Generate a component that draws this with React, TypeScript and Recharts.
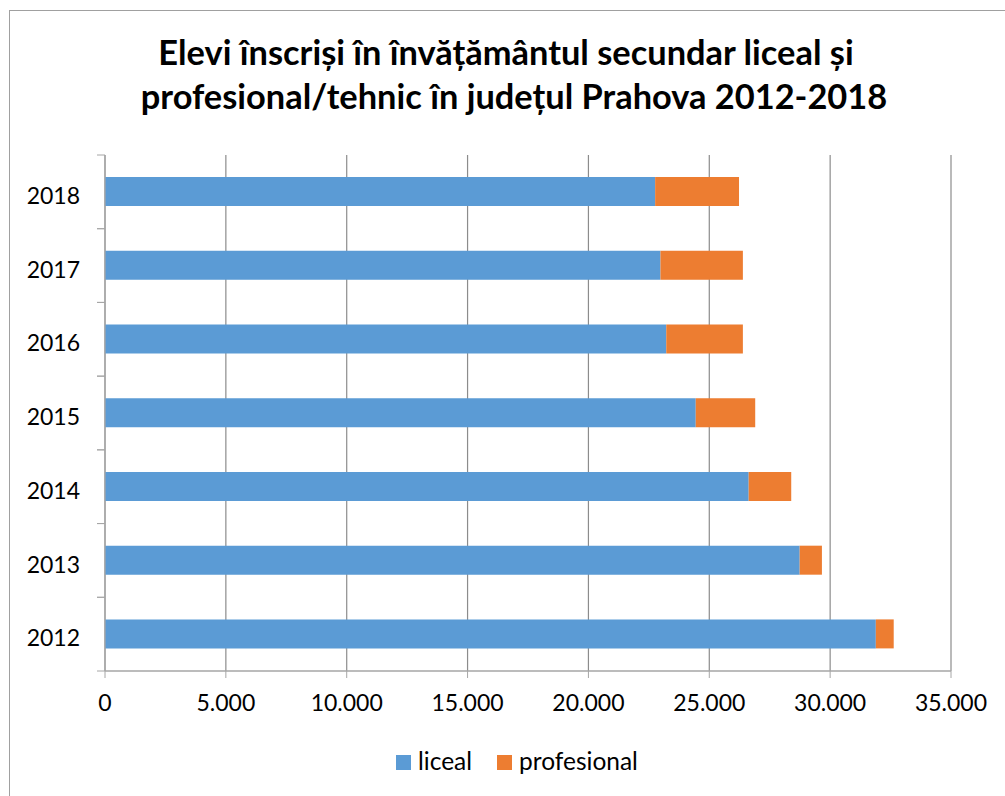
import React from "react"
import { Bar, BarChart, CartesianGrid, XAxis, YAxis } from "recharts"

const years = ["2012", "2013", "2014", "2015", "2016", "2017", "2018"]
const liceal = [31890, 28740, 26630, 24440, 23220, 22980, 22760]
const profesional = [740, 920, 1760, 2460, 3170, 3410, 3470]
const xTicks = [0, 5000, 10000, 15000, 20000, 25000, 30000, 35000]

const series = [
  { key: "liceal", name: "liceal", color: "#5B9BD5" },
  { key: "profesional", name: "profesional", color: "#ED7D31" },
]

const titleLines = [
  "Elevi înscriși în învățământul secundar liceal și",
  "profesional/tehnic în județul Prahova 2012-2018",
]

const data = years.map((year, i) => ({
  year,
  liceal: liceal[i],
  profesional: profesional[i],
}))

const W = 1005
const H = 796
const M = { top: 155, right: 54, bottom: 95, left: 25 }
const X_AXIS_H = 30
const Y_AXIS_W = 80
const PLOT_H = H - M.top - M.bottom - X_AXIS_H
const BAND = PLOT_H / years.length
const FONT = "Lato, 'Open Sans', sans-serif"
const AXIS_COLOR = "#A6A6A6"
const GRID_COLOR = "#8C8C8C"

const fmt = (n: number) => String(n).replace(/\B(?=(\d{3})+(?!\d))/g, ".")

const YTick = (props: any) => {
  const { x, y, payload } = props
  const axisX = x + 17 + 8
  return (
    <g>
      <line x1={axisX - 8} x2={axisX} y1={y - BAND / 2} y2={y - BAND / 2} stroke={AXIS_COLOR} />
      <line x1={axisX - 8} x2={axisX} y1={y + BAND / 2} y2={y + BAND / 2} stroke={AXIS_COLOR} />
      <text x={x} y={y + 4} dy="0.355em" textAnchor="end" fontSize={23} fill="#000" fontFamily={FONT}>
        {payload.value}
      </text>
    </g>
  )
}

export default function App() {
  return (
    <div
      style={{
        position: "fixed",
        left: 0,
        top: 0,
        width: W,
        height: H,
        overflow: "hidden",
        background: "#fff",
        fontFamily: FONT,
      }}
    >
      <div
        style={{
          position: "absolute",
          left: 9,
          top: 10,
          width: 1100,
          height: 900,
          border: "1px solid #A0A0A0",
        }}
      />
      <div style={{ position: "absolute", left: 0, top: 0 }}>
        <BarChart width={W} height={H} data={data} layout="vertical" margin={M} barCategoryGap="30%">
          <CartesianGrid horizontal={false} stroke={GRID_COLOR} strokeWidth={1.2} />
          <XAxis
            type="number"
            domain={[0, 35000]}
            ticks={xTicks}
            tickFormatter={fmt}
            height={X_AXIS_H}
            tickSize={7}
            tickMargin={17}
            axisLine={{ stroke: AXIS_COLOR, strokeWidth: 1.5 }}
            tickLine={{ stroke: AXIS_COLOR }}
            tick={{ fontSize: 23, fill: "#000", fontFamily: FONT }}
            interval={0}
          />
          <YAxis
            type="category"
            dataKey="year"
            reversed
            width={Y_AXIS_W}
            tickSize={8}
            tickMargin={17}
            axisLine={{ stroke: AXIS_COLOR, strokeWidth: 1.2 }}
            tickLine={false}
            tick={<YTick />}
            interval={0}
          />
          {series.map((s) => (
            <Bar
              key={s.key}
              dataKey={s.key}
              name={s.name}
              stackId="a"
              fill={s.color}
              isAnimationActive={false}
            />
          ))}
        </BarChart>
      </div>
      <svg
        width={W}
        height={H}
        style={{ position: "absolute", left: 0, top: 0, pointerEvents: "none" }}
      >
        {titleLines.map((line, i) => (
          <text
            key={i}
            x={i === 0 ? 506 : 514}
            y={65 + i * 44}
            textAnchor="middle"
            fontSize={34.4}
            fontWeight="bold"
            fill="#000"
            fontFamily={FONT}
          >
            {line}
          </text>
        ))}
        {series.map((s, i) => {
          const lx = i === 0 ? 396 : 497
          return (
            <g key={s.key}>
              <rect x={lx} y={755} width={15} height={15} fill={s.color} />
              <text x={lx + 22} y={770} fontSize={24.5} fill="#000" fontFamily={FONT}>
                {s.name}
              </text>
            </g>
          )
        })}
      </svg>
    </div>
  )
}
